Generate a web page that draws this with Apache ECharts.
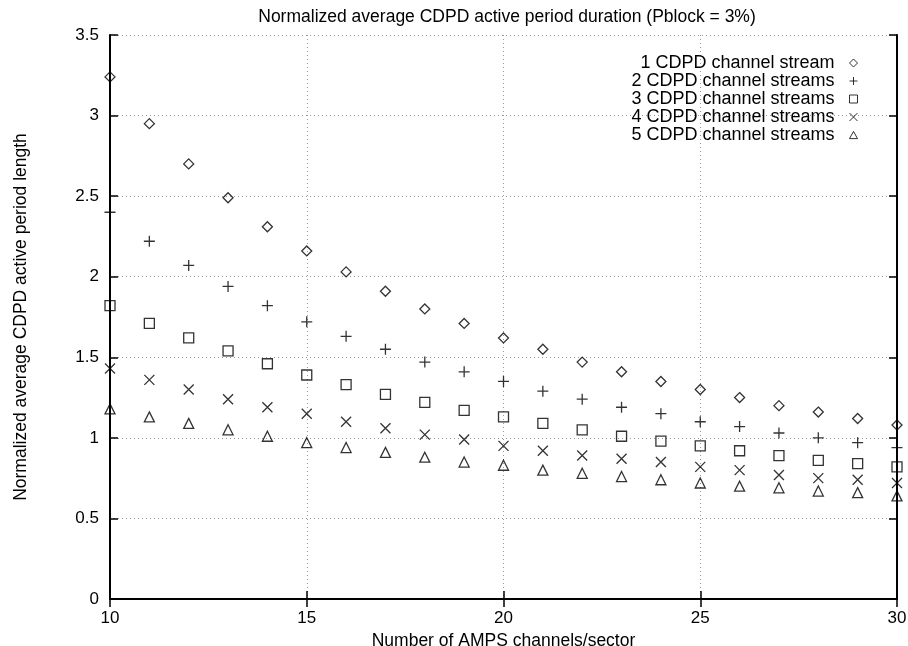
<!DOCTYPE html>
<html>
<head>
<meta charset="utf-8">
<script src="https://cdn.jsdelivr.net/npm/echarts@6/dist/echarts.min.js"></script>
<style>
  html, body { margin: 0; padding: 0; background: #fff; }
  #chart { width: 908px; height: 646px; }
</style>
</head>
<body>
<div id="chart"></div>
<script>
// x values: AMPS channels per sector
const channels = [10, 11, 12, 13, 14, 15, 16, 17, 18, 19, 20, 21, 22, 23, 24, 25, 26, 27, 28, 29, 30]

// normalized average active period length
const oneStream = [3.24, 2.95, 2.70, 2.49, 2.31, 2.16, 2.03, 1.91, 1.80, 1.71, 1.62, 1.55, 1.47, 1.41, 1.35, 1.30, 1.25, 1.20, 1.16, 1.12, 1.08]
const twoStreams = [2.40, 2.22, 2.07, 1.94, 1.82, 1.72, 1.63, 1.55, 1.47, 1.41, 1.35, 1.29, 1.24, 1.19, 1.15, 1.10, 1.07, 1.03, 1.00, 0.97, 0.94]
const threeStreams = [1.82, 1.71, 1.62, 1.54, 1.46, 1.39, 1.33, 1.27, 1.22, 1.17, 1.13, 1.09, 1.05, 1.01, 0.98, 0.95, 0.92, 0.89, 0.86, 0.84, 0.82]
const fourStreams = [1.43, 1.36, 1.30, 1.24, 1.19, 1.15, 1.10, 1.06, 1.02, 0.99, 0.95, 0.92, 0.89, 0.87, 0.85, 0.82, 0.80, 0.77, 0.75, 0.74, 0.72]
const fiveStreams = [1.18, 1.13, 1.09, 1.05, 1.01, 0.97, 0.94, 0.91, 0.88, 0.85, 0.83, 0.80, 0.78, 0.76, 0.74, 0.72, 0.70, 0.69, 0.67, 0.66, 0.64]

const seriesNames = [
  '1 CDPD channel stream',
  '2 CDPD channel streams',
  '3 CDPD channel streams',
  '4 CDPD channel streams',
  '5 CDPD channel streams',
]

// gnuplot-like point shapes
const symbols = [
  'path://M5,0L10,5L5,10L0,5Z',
  'path://M5,0L5,10M0,5L10,5',
  'path://M0,0L10,0L10,10L0,10Z',
  'path://M0,0L10,10M10,0L0,10',
  'path://M5,0L10,9L0,9Z',
]
const symbolSizes = [10, 11, 10, 10, 10]

const FONT = '"Liberation Sans", Arial, sans-serif'
const INK = '#000'

const allValues = [oneStream, twoStreams, threeStreams, fourStreams, fiveStreams]

const chart = echarts.init(document.getElementById('chart'))

const gridLine = { show: true, lineStyle: { color: '#999', type: [1, 3], width: 1 } }
const tick = { show: true, inside: true, length: 8, lineStyle: { color: INK, width: 1.5 } }
const frame = { show: true, lineStyle: { color: INK, width: 2 } }

chart.setOption({
  backgroundColor: '#fff',
  animation: false,
  title: {
    text: 'Normalized average CDPD active period duration (Pblock = 3%)',
    left: 502,
    textAlign: 'center',
    top: 3,
    textStyle: { fontFamily: FONT, fontSize: 17.5, fontWeight: 'normal', color: INK },
  },
  legend: {
    orient: 'vertical',
    right: 45,
    top: 49,
    align: 'right',
    itemGap: 0,
    itemWidth: 8,
    itemHeight: 8,
    data: seriesNames.map((n, i) => ({ name: n, icon: symbols[i] })),
    itemStyle: { color: 'transparent', borderColor: INK, borderWidth: 1 },
    textStyle: {
      fontFamily: FONT,
      fontSize: 18,
      lineHeight: 15,
      color: INK,
      width: 215,
      align: 'right',
      padding: [0, 10, 0, 0],
    },
  },
  grid: { left: 110, right: 11, top: 35, bottom: 47, outerBoundsMode: 'none' },
  xAxis: [
    {
      type: 'value',
      min: 10,
      max: 30,
      interval: 5,
      name: 'Number of AMPS channels/sector',
      nameLocation: 'middle',
      nameGap: 23,
      nameTextStyle: { fontFamily: FONT, fontSize: 17.5, color: INK },
      axisLine: frame,
      axisTick: tick,
      axisLabel: { fontFamily: FONT, fontSize: 17, color: INK, margin: 11 },
      splitLine: gridLine,
    },
    {
      type: 'value',
      position: 'top',
      min: 10,
      max: 30,
      interval: 5,
      axisLine: frame,
      axisTick: tick,
      axisLabel: { show: false },
      splitLine: { show: false },
    },
  ],
  yAxis: [
    {
      type: 'value',
      min: 0,
      max: 3.5,
      interval: 0.5,
      name: 'Normalized average CDPD active period length',
      nameLocation: 'middle',
      nameGap: 80,
      nameTextStyle: { fontFamily: FONT, fontSize: 17.5, color: INK },
      axisLine: frame,
      axisTick: tick,
      axisLabel: { fontFamily: FONT, fontSize: 17, color: INK, margin: 11 },
      splitLine: gridLine,
    },
    {
      type: 'value',
      position: 'right',
      min: 0,
      max: 3.5,
      interval: 0.5,
      axisLine: frame,
      axisTick: tick,
      axisLabel: { show: false },
      splitLine: { show: false },
    },
  ],
  series: seriesNames.map((name, i) => ({
    name,
    type: 'scatter',
    symbol: symbols[i],
    symbolSize: symbolSizes[i],
    itemStyle: { color: 'transparent', borderColor: INK, borderWidth: 1.3 },
    data: channels.map((c, j) => [c, allValues[i][j]]),
  })),
})
</script>
</body>
</html>
